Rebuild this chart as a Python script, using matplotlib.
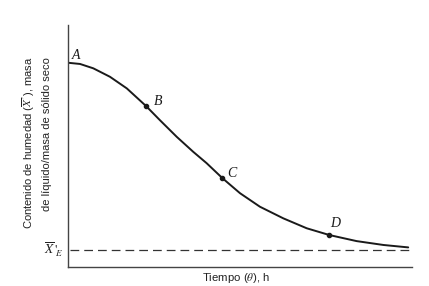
import matplotlib
matplotlib.use("Agg")
import matplotlib as mpl
import matplotlib.pyplot as plt

mpl.rcParams["mathtext.fontset"] = "stix"

# Drying curve (time units arbitrary, moisture arbitrary)
time = [0.0, 0.35, 0.735, 1.22, 1.71, 2.27, 2.67, 3.16, 3.64, 4.03, 4.49,
        5.00, 5.58, 6.26, 6.94, 7.60, 8.39, 9.17, 9.89]
moisture = [8.44, 8.39, 8.21, 7.86, 7.38, 6.65, 6.07, 5.38, 4.76, 4.29, 3.67,
            3.05, 2.49, 2.01, 1.60, 1.32, 1.07, 0.91, 0.81]
equilibrium = 0.72
point_names = ["A", "B", "C", "D"]
point_time = [0.0, 2.27, 4.49, 7.60]
point_moist = [8.44, 6.65, 3.67, 1.32]

fig = plt.figure(figsize=(4.29, 2.86), dpi=100)
fig.patch.set_facecolor("white")
ax = fig.add_axes([68/429, 19/286, 344/429, 242/286])
ax.set_xlim(0, 10)
ax.set_ylim(0, 10)

ax.plot(time, moisture, color="#1a1a1a", lw=1.4, solid_capstyle="round", solid_joinstyle="round")
ax.plot(point_time[1:], point_moist[1:], "o", color="#1a1a1a", ms=3)
ax.axhline(equilibrium, xmin=0.005, xmax=1.0, color="#333333", lw=0.9, dashes=(7, 4))

offsets = {"A": (0.1, 0.15), "B": (0.22, 0.05), "C": (0.15, 0.05), "D": (0.03, 0.32)}
for n, t, m in zip(point_names, point_time, point_moist):
    dx, dy = offsets[n]
    ax.text(t + dx, m + dy, n, fontsize=10, style="italic", family="Liberation Serif",
            ha="left", va="baseline", color="#1a1a1a")

for s in ["top", "right"]:
    ax.spines[s].set_visible(False)
for s in ["left", "bottom"]:
    ax.spines[s].set_color("#444444")
    ax.spines[s].set_linewidth(1.0)
ax.set_xticks([])
ax.set_yticks([])

ax.text(-0.12, equilibrium, r"$\overline{X}\,'_{\!E}$", fontsize=9.5,
        ha="right", va="center", color="#222222", transform=ax.transData)

fig.text(29/429, 1 - 143/286, r"Contenido de humedad ($\overline{X}\,'$), masa",
         rotation=90, fontsize=8, family="Liberation Sans", ha="center", va="center", color="#222222")
fig.text(47/429, 1 - 134/286, "de líquido/masa de sólido seco",
         rotation=90, fontsize=8, family="Liberation Sans", ha="center", va="center", color="#222222")
fig.text(236/429, 1 - 278/286, r"Tiempo ($\theta$), h", fontsize=8.2, family="Liberation Sans",
         ha="center", va="center", color="#222222")

fig.savefig("out.png", dpi=100, facecolor="white")
